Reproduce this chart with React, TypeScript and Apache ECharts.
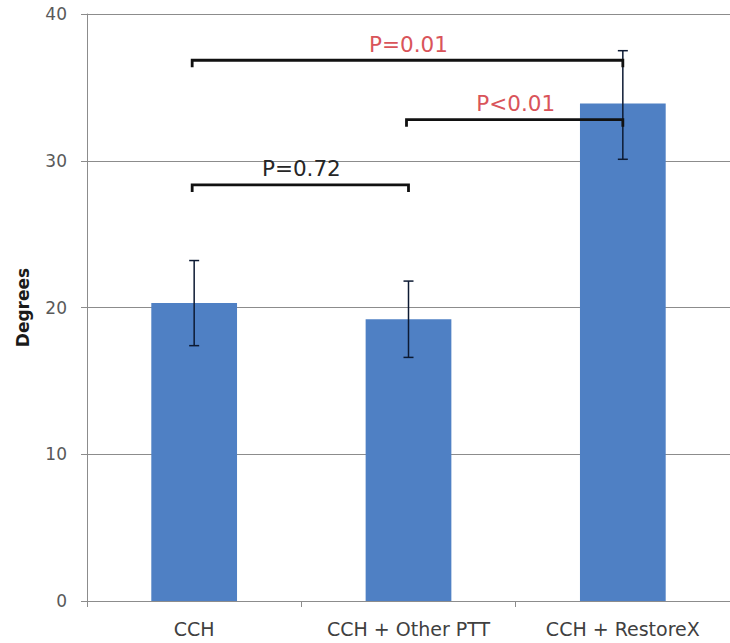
import React, { useEffect, useRef } from "react";
import * as echarts from "echarts";

const categories = ["CCH", "CCH + Other PTT", "CCH + RestoreX"];
const means = [20.3, 19.2, 33.9];
const errLow = [17.4, 16.6, 30.1];
const errHigh = [23.2, 21.8, 37.5];
const yTicks = [0, 10, 20, 30, 40];

const bracketFrom = [0, 1, 0];
const bracketTo = [1, 2, 2];
const bracketY = [28.35, 32.8, 36.85];
const bracketLabels = ["P=0.72", "P<0.01", "P=0.01"];
const bracketLabelRed = [false, true, true];

export default function App() {
  const ref = useRef<HTMLDivElement>(null);
  useEffect(() => {
    if (!ref.current) return;
    const chart = echarts.init(ref.current, null, { renderer: "svg" });
    const font = "'DejaVu Sans', sans-serif";
    const errData = categories.map((_, i) => [i, errLow[i], errHigh[i]]);
    const brData = bracketFrom.map((f, i) => [f, bracketTo[i], bracketY[i], i]);
    chart.setOption({
      animation: false,
      backgroundColor: "#ffffff",
      grid: { left: 87, right: -5, top: 14, bottom: 42, containLabel: false },
      xAxis: {
        type: "category",
        data: categories,
        axisLine: { show: true, lineStyle: { color: "#8c8c8c", width: 1 } },
        axisTick: { show: true, length: 6, lineStyle: { color: "#8c8c8c" } },
        axisLabel: {
          color: "#404040",
          fontSize: 19,
          fontFamily: font,
          margin: 18,
          interval: 0,
          hideOverlap: false,
        },
      },
      yAxis: {
        type: "value",
        min: yTicks[0],
        max: yTicks[yTicks.length - 1],
        interval: 10,
        name: "Degrees",
        nameLocation: "middle",
        nameGap: 56,
        nameRotate: 90,
        nameTextStyle: { color: "#1a1a1a", fontSize: 17, fontWeight: "bold", fontFamily: font },
        axisLine: { show: true, lineStyle: { color: "#8c8c8c", width: 1 } },
        axisTick: { show: true, length: 6, lineStyle: { color: "#8c8c8c" } },
        axisLabel: { color: "#595959", fontSize: 17, fontFamily: font, margin: 20 },
        splitLine: { show: true, lineStyle: { color: "#8c8c8c", width: 1 } },
      },
      series: [
        {
          type: "bar",
          data: means,
          barWidth: "40%",
          itemStyle: { color: "#4f80c4" },
        },
        {
          type: "custom",
          data: errData,
          encode: { x: 0, y: [1, 2] },
          z: 5,
          renderItem: (params: any, api: any) => {
            const i = api.value(0);
            const lo = api.coord([i, api.value(1)]);
            const hi = api.coord([i, api.value(2)]);
            const cap = 5;
            const style = { stroke: "#0d1a33", lineWidth: 1.5 };
            return {
              type: "group",
              children: [
                { type: "line", shape: { x1: lo[0], y1: lo[1], x2: hi[0], y2: hi[1] }, style },
                { type: "line", shape: { x1: lo[0] - cap, y1: lo[1], x2: lo[0] + cap, y2: lo[1] }, style },
                { type: "line", shape: { x1: hi[0] - cap, y1: hi[1], x2: hi[0] + cap, y2: hi[1] }, style },
              ],
            };
          },
        },
        {
          type: "custom",
          data: brData,
          encode: { x: [0, 1], y: 2 },
          z: 6,
          renderItem: (params: any, api: any) => {
            const idx = api.value(3);
            const a = api.coord([api.value(0), api.value(2)]);
            const b = api.coord([api.value(1), api.value(2)]);
            const tick = 7;
            return {
              type: "group",
              children: [
                {
                  type: "polyline",
                  shape: { points: [[a[0] - 2, a[1] + tick], [a[0] - 2, a[1]], [b[0], b[1]], [b[0], b[1] + tick]] },
                  style: { stroke: "#111111", lineWidth: 2.8, fill: "none" },
                },
                {
                  type: "text",
                  x: (a[0] + b[0]) / 2,
                  y: a[1] - 16,
                  style: {
                    text: bracketLabels[idx],
                    fill: bracketLabelRed[idx] ? "#d9545a" : "#262626",
                    fontSize: 21.5,
                    fontFamily: font,
                    align: "center",
                    verticalAlign: "middle",
                  },
                },
              ],
            };
          },
        },
      ],
    });
    return () => chart.dispose();
  }, []);
  return <div ref={ref} style={{ width: 730, height: 643, position: "absolute", left: 0, top: 0 }} />;
}
